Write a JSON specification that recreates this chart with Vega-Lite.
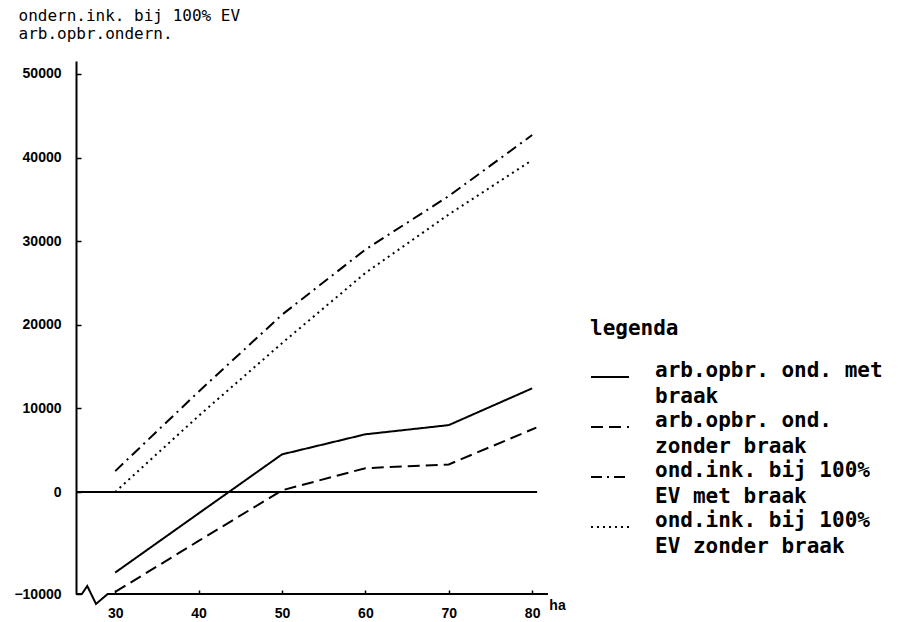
{
  "$schema": "https://vega.github.io/schema/vega-lite/v6.json",
  "autosize": {"type": "none"},
  "padding": {"left": 76, "top": 61, "right": 352, "bottom": 28},
  "width": 472,
  "height": 533,
  "background": "white",
  "config": {
    "view": {"stroke": null},
    "axis": {"grid": false, "labelColor": "black", "titleColor": "black", "domainColor": "black", "tickColor": "black"}
  },
  "datasets": {
    "reeksen": [
      {"ha": 30, "waarde": -7900, "serie": "arb.opbr. ond. met braak"},
      {"ha": 40, "waarde": -2100, "serie": "arb.opbr. ond. met braak"},
      {"ha": 50, "waarde": 4500, "serie": "arb.opbr. ond. met braak"},
      {"ha": 60, "waarde": 6900, "serie": "arb.opbr. ond. met braak"},
      {"ha": 70, "waarde": 8000, "serie": "arb.opbr. ond. met braak"},
      {"ha": 80, "waarde": 12400, "serie": "arb.opbr. ond. met braak"},
      {"ha": 30, "waarde": -9800, "serie": "arb.opbr. ond. zonder braak"},
      {"ha": 40, "waarde": -4800, "serie": "arb.opbr. ond. zonder braak"},
      {"ha": 50, "waarde": 200, "serie": "arb.opbr. ond. zonder braak"},
      {"ha": 60, "waarde": 2850, "serie": "arb.opbr. ond. zonder braak"},
      {"ha": 70, "waarde": 3300, "serie": "arb.opbr. ond. zonder braak"},
      {"ha": 80.5, "waarde": 7700, "serie": "arb.opbr. ond. zonder braak"},
      {"ha": 30, "waarde": 2500, "serie": "ond.ink. bij 100% EV met braak"},
      {"ha": 40, "waarde": 12000, "serie": "ond.ink. bij 100% EV met braak"},
      {"ha": 50, "waarde": 21200, "serie": "ond.ink. bij 100% EV met braak"},
      {"ha": 60, "waarde": 29000, "serie": "ond.ink. bij 100% EV met braak"},
      {"ha": 70, "waarde": 35400, "serie": "ond.ink. bij 100% EV met braak"},
      {"ha": 80, "waarde": 42700, "serie": "ond.ink. bij 100% EV met braak"},
      {"ha": 30, "waarde": 0, "serie": "ond.ink. bij 100% EV zonder braak"},
      {"ha": 40, "waarde": 9100, "serie": "ond.ink. bij 100% EV zonder braak"},
      {"ha": 50, "waarde": 17800, "serie": "ond.ink. bij 100% EV zonder braak"},
      {"ha": 60, "waarde": 26200, "serie": "ond.ink. bij 100% EV zonder braak"},
      {"ha": 70, "waarde": 33200, "serie": "ond.ink. bij 100% EV zonder braak"},
      {"ha": 80, "waarde": 39700, "serie": "ond.ink. bij 100% EV zonder braak"}
    ],
    "onderbreking": [
      {"volg": 1, "ha": 25.3, "waarde": -10000},
      {"volg": 2, "ha": 26.0, "waarde": -10000},
      {"volg": 3, "ha": 26.65, "waarde": -9220},
      {"volg": 4, "ha": 27.7, "waarde": -10970},
      {"volg": 5, "ha": 29.1, "waarde": -10000},
      {"volg": 6, "ha": 81.9, "waarde": -10000}
    ],
    "nullijn": [
      {"van": 25.3, "tot": 80.6, "waarde": 0}
    ]
  },
  "layer": [
    {
      "data": {"name": "reeksen"},
      "mark": {"type": "line", "color": "black", "strokeWidth": 2, "clip": false},
      "encoding": {
        "x": {
          "field": "ha", "type": "quantitative",
          "scale": {"domain": [25.3, 81.9], "nice": false, "zero": false},
          "axis": {
            "values": [30, 40, 50, 60, 70, 80],
            "domain": false,
            "tickSize": -4,
            "tickWidth": 1.5,
            "labelFont": "Liberation Sans",
            "labelFontSize": 14,
            "labelFontWeight": "bold",
            "labelPadding": 16,
            "title": "ha",
            "titleFont": "Liberation Sans",
            "titleFontSize": 14,
            "titleFontWeight": "bold",
            "titleX": 481,
            "titleY": 11,
            "titleAlign": "center",
            "titleBaseline": "middle"
          }
        },
        "y": {
          "field": "waarde", "type": "quantitative",
          "scale": {"domain": [-10000, 0, 51555], "range": [533, 431, 0], "nice": false, "zero": false},
          "axis": {
            "values": [-10000, 0, 10000, 20000, 30000, 40000, 50000],
            "format": "d",
            "domainWidth": 2,
            "tickSize": -5,
            "tickWidth": 1.5,
            "labelFont": "Liberation Sans",
            "labelFontSize": 14,
            "labelFontWeight": "bold",
            "labelPadding": 20,
            "title": ["ondern.ink. bij 100% EV", "arb.opbr.ondern."],
            "titleFont": "DejaVu Sans Mono",
            "titleFontSize": 16,
            "titleFontWeight": "normal",
            "titleLineHeight": 18,
            "titleAngle": 0,
            "titleAlign": "left",
            "titleBaseline": "top",
            "titleX": -58,
            "titleY": -54
          }
        },
        "strokeDash": {
          "field": "serie", "type": "nominal",
          "scale": {
            "domain": ["arb.opbr. ond. met braak", "arb.opbr. ond. zonder braak", "ond.ink. bij 100% EV met braak", "ond.ink. bij 100% EV zonder braak"],
            "range": [[1, 0], [12, 6], [11, 5, 2, 5], [2, 4]]
          },
          "legend": {
            "orient": "none",
            "legendX": 514,
            "legendY": 257,
            "title": "legenda",
            "titleFont": "DejaVu Sans Mono",
            "titleFontSize": 21,
            "titleFontWeight": "bold",
            "titleColor": "black",
            "titlePadding": 18,
            "labelFont": "DejaVu Sans Mono",
            "labelFontSize": 21,
            "labelFontWeight": "bold",
            "labelColor": "black",
            "labelLimit": 0,
            "labelOffset": 25,
            "labelBaseline": "alphabetic",
            "labelExpr": "split(replace(datum.label, /\\s(EV met braak|EV zonder braak|zonder braak|braak)$/, '|$1'), '|')",
            "symbolType": "stroke",
            "symbolSize": 1444,
            "symbolStrokeWidth": 2,
            "symbolStrokeColor": "black",
            "rowPadding": 0,
            "encode": {"labels": {"update": {"lineHeight": {"value": 26}}}}
          }
        }
      }
    },
    {
      "data": {"name": "nullijn"},
      "mark": {"type": "rule", "color": "black", "strokeWidth": 2},
      "encoding": {
        "x": {"field": "van", "type": "quantitative"},
        "x2": {"field": "tot"},
        "y": {"field": "waarde", "type": "quantitative"}
      }
    },
    {
      "data": {"name": "onderbreking"},
      "mark": {"type": "line", "color": "black", "strokeWidth": 2, "clip": false},
      "encoding": {
        "x": {"field": "ha", "type": "quantitative"},
        "y": {"field": "waarde", "type": "quantitative"},
        "order": {"field": "volg"}
      }
    }
  ]
}
